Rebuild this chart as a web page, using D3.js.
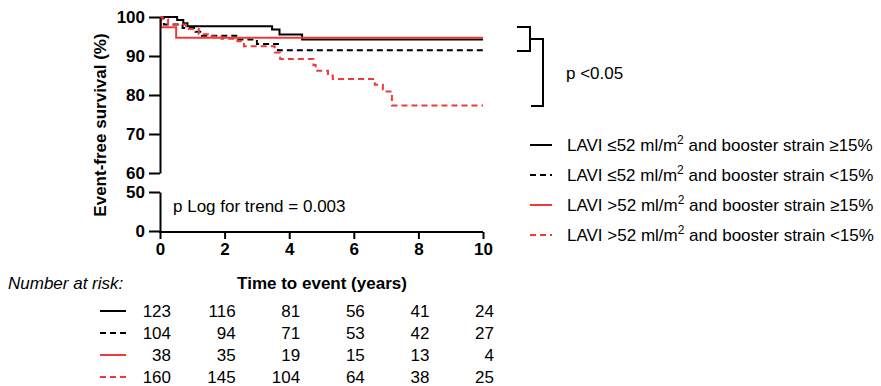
<!DOCTYPE html>
<html><head><meta charset="utf-8">
<script src="https://cdn.jsdelivr.net/npm/d3@7"></script>
<style>body{margin:0;background:#fff}svg{display:block;font-family:"Liberation Sans",Arial,sans-serif}</style>
</head><body><svg id="c" width="881" height="386"></svg>
<script>
// ---- data ----
const xTicks = [0,2,4,6,8,10];
const yTicksTop = [60,70,80,90,100];
const yTicksBottom = [0,50];
const seriesNames = [
  ["LAVI \u226452 ml/m","2"," and booster strain \u226515%"],
  ["LAVI \u226452 ml/m","2"," and booster strain <15%"],
  ["LAVI >52 ml/m","2"," and booster strain \u226515%"],
  ["LAVI >52 ml/m","2"," and booster strain <15%"]
];
const seriesColors = ["#000000","#000000","#f03a3a","#f03a3a"];
const seriesDashed = [false,true,false,true];
const curveLaviLowBoostHigh = [[0,100],[0.53,99.2],[0.72,98.4],[0.85,97.6],[3.47,96.8],[3.7,95.5],[4.4,94.2],[10,94.2]];
const curveLaviLowBoostLow = [[0,100],[0.12,98.1],[0.7,97.2],[1.1,96.2],[1.3,95.2],[2.4,94.2],[3.0,93.1],[3.65,91.5],[10,91.5]];
const curveLaviHighBoostHigh = [[0,100],[0.03,97.4],[0.5,94.7],[10,94.7]];
const curveLaviHighBoostLow = [[0,100],[0.08,99.4],[0.25,98.1],[0.8,96.9],[1.2,95.6],[1.6,95.0],[1.9,94.4],[2.4,93.8],[2.6,92.5],[3.55,90.9],[3.72,89.2],[4.75,87.7],[4.82,86.2],[5.2,85.0],[5.35,84.1],[6.65,82.6],[6.9,80.9],[7.18,77.3],[10,77.3]];
const curves = [curveLaviLowBoostHigh,curveLaviLowBoostLow,curveLaviHighBoostHigh,curveLaviHighBoostLow];
const riskTimes = [0,2,4,6,8,10];
const riskLaviLowBoostHigh = [123,116,81,56,41,24];
const riskLaviLowBoostLow = [104,94,71,53,42,27];
const riskLaviHighBoostHigh = [38,35,19,15,13,4];
const riskLaviHighBoostLow = [160,145,104,64,38,25];
const riskRows = [riskLaviLowBoostHigh,riskLaviLowBoostLow,riskLaviHighBoostHigh,riskLaviHighBoostLow];

// ---- scales ----
const svg = d3.select("#c");
svg.append("rect").attr("width",881).attr("height",386).attr("fill","#fff");
const x = d3.scaleLinear().domain([0,10]).range([160,483]);
const yTop = d3.scaleLinear().domain([60,100]).range([173,17]);
const yBot = d3.scaleLinear().domain([0,50]).range([231,192]);
const dash = "6,4";

// curves
const line = d3.line().x(d=>x(d[0])).y(d=>yTop(d[1])).curve(d3.curveStepAfter);
curves.forEach((c,i)=>{
  svg.append("path").attr("d",line(c)).attr("fill","none")
    .attr("stroke",seriesColors[i]).attr("stroke-width",2)
    .attr("stroke-dasharray",seriesDashed[i]?dash:null);
});

// axes
function styleAxis(g){
  g.selectAll(".domain").attr("stroke","#000").attr("stroke-width",2);
  g.selectAll(".tick line").attr("stroke","#000").attr("stroke-width",2);
  g.selectAll(".tick text").attr("font-family","Liberation Sans, Arial, sans-serif")
    .attr("font-size",17).attr("font-weight","bold").attr("fill","#000");
}
const gyT = svg.append("g").attr("transform","translate(160,0)")
  .call(d3.axisLeft(yTop).tickValues(yTicksTop).tickSize(11).tickSizeOuter(0).tickPadding(4));
styleAxis(gyT);
const gyB = svg.append("g").attr("transform","translate(160,0)")
  .call(d3.axisLeft(yBot).tickValues(yTicksBottom).tickSize(11).tickSizeOuter(0).tickPadding(4));
styleAxis(gyB);
const gx = svg.append("g").attr("transform","translate(0,232)")
  .call(d3.axisBottom(x).tickValues(xTicks).tickSize(7).tickSizeOuter(0).tickPadding(4));
styleAxis(gx);
gx.select(".domain").attr("d","M159,0H483");

// axis titles
svg.append("text").attr("transform","translate(106,125) rotate(-90)")
  .attr("text-anchor","middle").attr("font-size",17).attr("font-weight","bold")
  .text("Event-free survival (%)");
svg.append("text").attr("x",322).attr("y",289).attr("text-anchor","middle")
  .attr("font-size",17).attr("font-weight","bold").text("Time to event (years)");

svg.append("text").attr("x",173).attr("y",212).attr("font-size",17).text("p Log for trend = 0.003");

// brackets
svg.append("path").attr("d","M517,27H530V51H517M530,39H543V106H531")
  .attr("fill","none").attr("stroke","#000").attr("stroke-width",2);
svg.append("text").attr("x",566).attr("y",79).attr("font-size",17).text("p <0.05");

// legend
const legY = [145,175,205,235];
seriesNames.forEach((n,i)=>{
  svg.append("line").attr("x1",530).attr("x2",552).attr("y1",legY[i]).attr("y2",legY[i])
    .attr("stroke",seriesColors[i]).attr("stroke-width",2)
    .attr("stroke-dasharray",seriesDashed[i]?dash:null);
  const t = svg.append("text").attr("x",567).attr("y",legY[i]+6).attr("font-size",17);
  t.append("tspan").text(n[0]);
  t.append("tspan").attr("font-size",12).attr("dy",-7).text(n[1]);
  t.append("tspan").attr("dy",7).text(n[2]);
});

// number at risk
svg.append("text").attr("x",8).attr("y",289).attr("font-size",17).attr("font-style","italic").text("Number at risk:");
const riskY = [311,333,355,377];
riskRows.forEach((r,i)=>{
  svg.append("line").attr("x1",100).attr("x2",126).attr("y1",riskY[i]).attr("y2",riskY[i])
    .attr("stroke",seriesColors[i]).attr("stroke-width",2)
    .attr("stroke-dasharray",seriesDashed[i]?dash:null);
  r.forEach((v,j)=>{
    svg.append("text").attr("x",x(riskTimes[j])+11).attr("y",riskY[i]+6)
      .attr("text-anchor","end").attr("font-size",17).text(v);
  });
});
</script></body></html>
